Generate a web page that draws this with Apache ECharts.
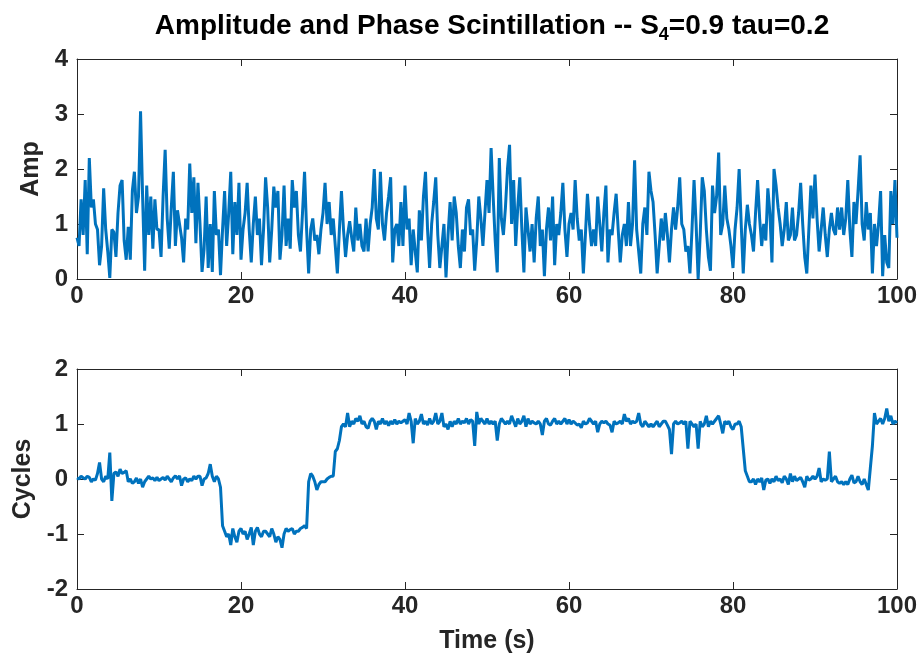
<!DOCTYPE html>
<html>
<head>
<meta charset="utf-8">
<script src="https://cdn.jsdelivr.net/npm/echarts@6/dist/echarts.min.js"></script>
<style>
html,body{margin:0;padding:0;background:#fff;}
#chart{width:922px;height:658px;}
</style>
</head>
<body>
<div id="chart"></div>
<script>
// sample spacing (s)
const dt = 0.25;
const xTicks = [0, 20, 40, 60, 80, 100];
const ampTicks = [0, 1, 2, 3, 4];
const cycTicks = [-2, -1, 0, 1, 2];

// Amplitude (top panel), 0..100 s every 0.25 s
const amp = [
0.75,0.6,1.45,0.8,1.8,0.45,2.2,1.3,1.45,1.0,0.9,0.25,0.6,1.65,0.9,0.5,0.02,0.9,0.85,0.4,1.2,1.7,1.8,0.7,0.35,0.95,0.35,1.6,1.95,1.2,1.5,3.05,1.5,0.15,1.7,0.8,1.5,0.55,1.45,0.9,
0.9,0.4,1.5,2.35,1.1,0.55,1.3,1.95,0.6,1.25,1.0,0.75,0.3,1.1,0.9,2.1,1.2,1.85,0.65,1.75,1.0,0.13,0.55,1.5,0.2,1.0,0.13,1.6,0.8,0.9,0.07,0.9,1.6,0.6,1.2,1.95,0.45,1.4,0.8,1.75,
0.35,0.9,1.2,1.75,0.9,0.3,1.0,1.5,0.8,1.1,0.25,0.9,1.85,1.3,0.3,0.9,1.68,1.3,1.6,0.35,0.8,1.7,0.6,1.1,0.55,1.8,1.3,1.6,0.8,0.5,1.2,1.95,0.9,0.1,0.9,1.1,0.7,0.8,0.45,0.9,
1.2,1.75,1.0,1.4,0.8,1.1,0.6,0.1,0.9,1.6,0.9,0.4,0.8,1.05,0.75,0.5,1.3,0.7,1.0,0.6,0.5,1.1,0.5,1.0,1.3,2.0,1.1,0.9,1.95,1.0,0.7,1.2,1.5,1.85,0.3,0.9,1.0,0.6,1.4,0.6,
1.7,0.9,1.1,0.25,0.9,0.5,0.12,1.25,0.7,1.5,1.95,0.9,0.2,1.0,1.4,1.85,0.8,0.2,0.6,1.0,0.03,0.8,1.4,0.7,1.5,1.2,0.6,0.2,0.9,0.5,1.3,1.45,0.8,0.9,0.15,0.7,1.5,1.1,0.6,1.2,
1.8,1.2,2.38,1.5,0.7,0.12,2.2,1.1,0.8,1.3,2.0,2.44,1.0,1.8,0.6,1.3,1.85,0.9,0.12,1.3,0.9,0.5,1.0,0.3,1.1,1.5,0.6,0.9,0.05,0.9,1.3,0.7,1.5,0.25,1.0,0.8,1.2,1.75,0.9,0.4,
1.0,1.2,0.9,1.8,1.1,0.7,0.9,0.1,0.8,1.55,1.0,0.6,0.9,0.6,1.5,1.0,0.5,1.2,1.7,0.3,0.9,0.8,1.2,1.55,0.9,0.3,0.8,1.0,0.6,1.4,0.6,1.0,2.16,0.9,0.5,0.1,1.0,1.3,0.8,1.95,
1.6,1.4,0.8,0.1,0.6,1.1,0.7,1.2,0.8,0.3,0.9,1.3,0.9,1.3,1.85,1.0,0.9,0.5,0.6,0.1,0.9,1.8,1.0,0.0,0.8,1.85,1.6,0.9,0.4,0.15,1.7,1.2,1.5,2.3,0.8,1.0,1.7,1.1,0.9,0.6,
0.2,0.9,1.3,2.0,1.0,0.1,0.9,1.35,1.0,0.8,0.5,1.2,1.8,1.1,0.6,1.0,0.7,1.65,1.2,0.3,2.0,1.7,1.3,1.0,0.6,0.9,1.4,0.7,0.8,1.3,0.7,0.8,1.2,1.75,1.0,0.4,0.1,0.9,1.7,1.1,
1.9,1.1,0.5,0.9,1.3,0.8,0.4,0.9,1.2,0.9,0.8,1.3,0.9,1.3,0.8,1.1,1.8,0.9,0.4,1.4,1.0,1.6,2.25,1.0,0.7,1.4,0.9,1.2,0.1,1.0,0.6,1.0,1.6,0.05,0.8,0.3,0.2,1.6,1.0,1.8,
0.75
];

// Phase in cycles (bottom panel), 0..100 s every 0.25 s
const cycles = [
0.02,0.0,0.05,0.02,0.0,0.05,0.03,-0.05,0.0,-0.02,0.1,0.3,0.0,-0.05,0.05,0.0,0.48,-0.4,0.1,0.13,0.05,0.18,0.1,0.12,0.15,-0.05,0.0,-0.08,-0.05,0.02,-0.08,0.0,-0.15,-0.05,0.0,0.05,0.0,0.02,-0.03,0.03,
-0.03,0.0,0.03,-0.02,0.05,0.0,-0.05,0.02,0.06,0.0,0.06,-0.12,0.0,0.02,-0.05,0.0,-0.03,0.05,0.0,0.05,0.05,-0.12,0.0,0.02,0.1,0.27,0.05,-0.05,0.05,0.0,-0.15,-0.85,-0.95,-1.05,-1.0,-1.2,-0.9,-1.05,-1.15,-0.95,
-0.9,-1.0,-0.95,-1.1,-1.0,-0.88,-1.2,-0.95,-0.88,-1.0,-1.05,-0.95,-0.95,-1.0,-1.05,-0.9,-1.0,-1.15,-1.05,-1.1,-1.25,-1.0,-0.9,-0.95,-0.92,-0.9,-1.0,-0.95,-0.95,-0.9,-0.88,-0.85,-0.9,-0.05,0.1,0.05,-0.05,-0.2,-0.1,-0.05,
-0.05,-0.05,0.0,0.03,0.05,0.05,0.5,0.55,0.7,0.95,1.0,0.95,1.2,0.95,1.05,1.0,1.1,1.05,1.15,1.0,1.05,0.95,0.92,1.05,1.1,1.05,0.9,1.05,1.0,1.1,1.0,1.05,0.97,1.05,1.0,1.08,1.0,1.05,1.02,1.05,
1.08,1.0,1.2,1.05,0.65,1.1,1.0,1.05,1.18,1.0,1.05,0.98,1.1,1.0,1.05,1.2,1.0,1.05,1.2,0.95,1.0,0.9,1.05,0.95,1.05,1.0,1.1,1.0,1.05,1.02,1.1,1.0,1.08,1.05,0.6,1.22,1.0,1.1,1.05,1.0,
1.1,1.0,1.05,1.0,1.05,0.7,1.0,1.1,1.05,1.0,1.05,1.0,1.15,1.05,0.95,1.1,1.0,1.05,1.15,0.95,1.1,1.0,1.05,1.02,1.0,1.05,1.0,0.8,1.05,1.1,1.0,0.98,1.05,1.1,1.0,1.05,1.0,1.05,1.1,1.0,
1.08,1.0,1.05,1.02,0.98,1.0,0.93,1.05,1.0,1.02,1.1,1.05,1.0,1.05,0.85,1.0,1.05,1.02,1.05,1.0,0.98,0.85,1.05,1.0,1.02,1.05,1.0,1.18,1.05,1.1,1.0,1.05,1.02,1.05,1.2,1.0,0.95,1.05,1.0,0.95,
1.0,0.95,1.0,1.05,0.95,1.0,1.05,1.05,0.98,0.9,0.45,1.0,1.05,1.0,1.02,1.05,1.0,1.05,0.55,1.05,1.0,0.95,1.0,0.55,1.05,0.95,1.0,1.15,0.95,1.05,1.0,1.05,1.1,1.15,1.0,0.83,1.05,1.0,1.05,0.95,
0.9,1.0,1.0,1.05,0.95,0.55,0.15,0.05,-0.05,-0.05,0.0,-0.1,0.0,-0.05,0.02,-0.2,-0.02,0.0,-0.08,0.0,-0.05,0.05,-0.03,0.0,-0.07,0.05,0.0,-0.1,0.1,-0.05,0.05,-0.03,0.0,0.03,-0.05,-0.15,0.05,-0.02,0.0,0.05,
0.0,0.05,0.2,-0.05,0.0,-0.02,0.0,0.5,-0.05,0.0,0.05,-0.05,-0.08,-0.05,-0.1,-0.05,-0.1,0.0,0.07,-0.07,-0.05,0.05,-0.05,-0.1,0.0,-0.1,-0.2,0.2,0.6,1.2,1.0,1.05,1.1,1.0,1.1,1.28,1.05,1.15,1.0,1.05,
1.02
];

const ampData = amp.map((v, i) => [i * dt, v]);
const cycData = cycles.map((v, i) => [i * dt, v]);

const FONT = 'Liberation Sans';
const AX = '#262626';
const lineColor = '#0072BD';
const TICK_FS = 24;
const NAME_FS = 25;

function xAx(grid, pos, labels, name) {
  return {
    type: 'value', gridIndex: grid, position: pos,
    min: xTicks[0], max: xTicks[xTicks.length - 1], interval: 20,
    axisLine: { show: true, onZero: false, lineStyle: { color: AX, width: 1 } },
    axisTick: { show: true, inside: true, length: 7, lineStyle: { color: AX } },
    axisLabel: { show: labels, margin: 5, color: AX, fontFamily: FONT, fontWeight: 'bold', fontSize: TICK_FS },
    splitLine: { show: false },
    name: name || '', nameLocation: 'middle', nameGap: 40,
    nameTextStyle: { color: AX, fontFamily: FONT, fontWeight: 'bold', fontSize: NAME_FS }
  };
}
function yAx(grid, pos, labels, ticks, name, gap) {
  return {
    type: 'value', gridIndex: grid, position: pos,
    min: ticks[0], max: ticks[ticks.length - 1], interval: 1,
    axisLine: { show: true, onZero: false, lineStyle: { color: AX, width: 1 } },
    axisTick: { show: true, inside: true, length: 7, lineStyle: { color: AX } },
    axisLabel: { show: labels, margin: 9, color: AX, fontFamily: FONT, fontWeight: 'bold', fontSize: TICK_FS },
    splitLine: { show: false },
    name: name || '', nameLocation: 'middle', nameGap: gap || 40, nameRotate: 90,
    nameTextStyle: { color: AX, fontFamily: FONT, fontWeight: 'bold', fontSize: NAME_FS }
  };
}

const chart = echarts.init(document.getElementById('chart'), null, { renderer: 'canvas' });
chart.setOption({
  backgroundColor: '#ffffff',
  animation: false,
  title: {
    text: '{a|Amplitude and Phase Scintillation -- S}{s|4}{a|=0.9 tau=0.2}',
    left: 487, top: 4, textAlign: 'center',
    textStyle: {
      rich: {
        a: { fontFamily: FONT, fontWeight: 'bold', fontSize: 28, color: '#000' },
        s: { fontFamily: FONT, fontWeight: 'bold', fontSize: 18, color: '#000', padding: [17, 0, 0, 0] }
      }
    }
  },
  grid: [
    { left: 77, top: 59, width: 820, height: 220, containLabel: false, outerBoundsMode: 'none' },
    { left: 77, top: 369, width: 820, height: 220, containLabel: false, outerBoundsMode: 'none' }
  ],
  xAxis: [
    xAx(0, 'bottom', true),
    xAx(0, 'top', false),
    xAx(1, 'bottom', true, 'Time (s)'),
    xAx(1, 'top', false)
  ],
  yAxis: [
    yAx(0, 'left', true, ampTicks, 'Amp', 32),
    yAx(0, 'right', false, ampTicks),
    yAx(1, 'left', true, cycTicks, 'Cycles', 37),
    yAx(1, 'right', false, cycTicks)
  ],
  series: [
    { type: 'line', xAxisIndex: 0, yAxisIndex: 0, data: ampData, showSymbol: false,
      lineStyle: { color: lineColor, width: 3 }, itemStyle: { color: lineColor } },
    { type: 'line', xAxisIndex: 2, yAxisIndex: 2, data: cycData, showSymbol: false,
      lineStyle: { color: lineColor, width: 3 }, itemStyle: { color: lineColor } }
  ]
});
</script>
</body>
</html>
